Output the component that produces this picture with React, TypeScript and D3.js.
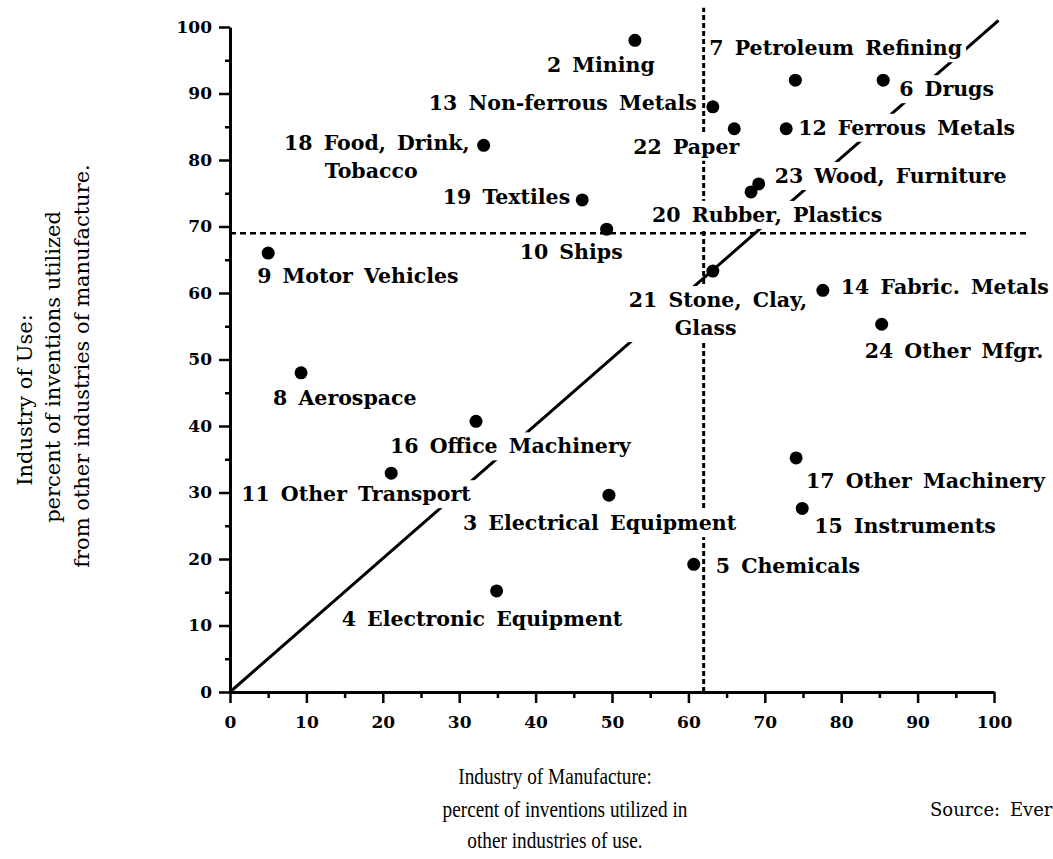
import React, { useEffect, useRef } from 'react';
import * as d3 from 'd3';

// industry codes, names (\n = line break), x = % used elsewhere, y = % from elsewhere
const codes = [2, 7, 6, 13, 22, 12, 23, 20, 19, 10, 21, 14, 24, 17, 15, 5, 3, 4, 11, 16, 8, 9, 18];
const names = [
  'Mining', 'Petroleum Refining', 'Drugs', 'Non-ferrous Metals', 'Paper', 'Ferrous Metals',
  'Wood, Furniture', 'Rubber, Plastics', 'Textiles', 'Ships', 'Stone, Clay,\nGlass',
  'Fabric. Metals', 'Other Mfgr.', 'Other Machinery', 'Instruments', 'Chemicals',
  'Electrical Equipment', 'Electronic Equipment', 'Other Transport', 'Office Machinery',
  'Aerospace', 'Motor Vehicles', 'Food, Drink,\nTobacco',
];
const manufacture = [53, 74, 85.5, 63.2, 66, 72.8, 69.2, 68.2, 46.1, 49.3, 63.2, 77.6, 85.3, 74.1, 74.9, 60.7, 49.6, 34.9, 21.1, 32.2, 9.3, 5, 33.2];
const use = [98, 92, 92, 88, 84.7, 84.7, 76.4, 75.2, 74, 69.6, 63.3, 60.4, 55.3, 35.2, 27.6, 19.2, 29.6, 15.2, 32.9, 40.7, 48, 66, 82.2];

const majorTicks = [0, 10, 20, 30, 40, 50, 60, 70, 80, 90, 100];
const minorTicks = [5, 15, 25, 35, 45, 55, 65, 75, 85, 95];

// reference lines (data units)
const diagonal: [number, number][] = [[0, 0], [100.6, 101]];
const medianX = 62;
const medianY = 69;

// label placement relative to the dot, one entry per line: [anchor, dx, dy]
const labelLayout: [string, number, number][][] = [
  [['start', -88, 25]],
  [['start', -86, -32]],
  [['start', 16, 9]],
  [['end', -16, -4]],
  [['start', -101, 18]],
  [['start', 12, -1]],
  [['start', 16, -8]],
  [['start', -99, 23]],
  [['end', -12, -3]],
  [['start', -87, 23]],
  [['start', -84, 29], ['start', -38, 57]],
  [['start', 18, -3]],
  [['start', -17, 27]],
  [['start', 10, 23]],
  [['start', 12, 18]],
  [['start', 22, 2]],
  [['start', -146, 28]],
  [['start', -155, 28]],
  [['start', -150, 21]],
  [['start', -86, 25]],
  [['start', -28, 25]],
  [['start', -11, 23]],
  [['end', -14, -2], ['end', -66, 26]],
];

const W = 1053;
const H = 859;
const labelFont = '"DejaVu Serif", serif';

const App: React.FC = () => {
  const axisRef = useRef<SVGGElement>(null);
  const bgRef = useRef<SVGGElement>(null);
  const labelsRef = useRef<SVGGElement>(null);

  const x = d3.scaleLinear().domain([0, 100]).range([230, 994]);
  const y = d3.scaleLinear().domain([0, 100]).range([692, 27]);

  useEffect(() => {
    if (!axisRef.current) return;
    const g = d3.select(axisRef.current);
    g.selectAll('*').remove();

    // y axis
    const yMinor = g.append('g').attr('transform', `translate(${x(0)},0)`)
      .call(d3.axisLeft(y).tickValues(minorTicks).tickSize(5).tickSizeOuter(0).tickFormat(() => ''));
    yMinor.select('.domain').remove();
    const yAxis = g.append('g').attr('transform', `translate(${x(0)},0)`)
      .call(d3.axisLeft(y).tickValues(majorTicks).tickSize(11).tickSizeOuter(0).tickPadding(7));

    // x axis
    const xMinor = g.append('g').attr('transform', `translate(0,${y(0)})`)
      .call(d3.axisBottom(x).tickValues(minorTicks).tickSize(6).tickSizeOuter(0).tickFormat(() => ''));
    xMinor.select('.domain').remove();
    const xAxis = g.append('g').attr('transform', `translate(0,${y(0)})`)
      .call(d3.axisBottom(x).tickValues(majorTicks).tickSize(11).tickSizeOuter(0).tickPadding(13));

    [yAxis, xAxis].forEach(a => {
      a.select('.domain').attr('stroke', '#000').attr('stroke-width', 3);
      a.selectAll('text')
        .attr('fill', '#000')
        .style('font-family', labelFont)
        .style('font-weight', 'bold')
        .style('font-size', '17px');
    });
    g.selectAll('.tick line').attr('stroke', '#000').attr('stroke-width', 2.5);

    // white boxes behind labels, breaking the lines like the original
    if (bgRef.current && labelsRef.current) {
      const bg = d3.select(bgRef.current);
      bg.selectAll('*').remove();
      d3.select(labelsRef.current).selectAll<SVGGElement, unknown>('g.lbl').each(function () {
        const b = this.getBBox();
        bg.append('rect')
          .attr('x', b.x - 4).attr('y', b.y - 2)
          .attr('width', b.width + 8).attr('height', b.height + 4)
          .attr('fill', '#fff');
      });
    }
  }, []);

  return (
    <svg width={W} height={H} style={{ position: 'absolute', left: 0, top: 0, background: '#fff' }}>
      {/* reference lines */}
      <line x1={x(diagonal[0][0])} y1={y(diagonal[0][1])} x2={x(diagonal[1][0])} y2={y(diagonal[1][1])}
        stroke="#000" strokeWidth={3} />
      <line x1={x(medianX)} x2={x(medianX)} y1={y(0)} y2={y(102.9)}
        stroke="#000" strokeWidth={3} strokeDasharray="5 3" />
      <line x1={x(0)} x2={x(104.3)} y1={y(medianY)} y2={y(medianY)}
        stroke="#000" strokeWidth={2.5} strokeDasharray="6 4" />

      <g ref={bgRef} />

      <g ref={axisRef} />

      <g ref={labelsRef} style={{ fontFamily: labelFont, fontWeight: 'bold', fontSize: 20.5, wordSpacing: 4 }}>
        {names.map((n, i) => (
          <g className="lbl" key={i}>
            {n.split('\n').map((line, j) => {
              const [anchor, dx, dy] = labelLayout[i][j];
              return (
                <text key={j} x={x(manufacture[i]) + dx} y={y(use[i]) + dy}
                  textAnchor={anchor} dominantBaseline="central" fill="#000">
                  {j === 0 ? `${codes[i]} ${line}` : line}
                </text>
              );
            })}
          </g>
        ))}
      </g>

      {/* dots */}
      {manufacture.map((v, i) => (
        <circle key={i} cx={x(v)} cy={y(use[i])} r={6.5} fill="#000" />
      ))}

      {/* y axis title */}
      <g style={{ fontFamily: labelFont, fontSize: 21 }} fill="#000">
        <text transform="translate(25,400) rotate(-90)" textAnchor="middle" dominantBaseline="central">Industry of Use:</text>
        <text transform="translate(53,367) rotate(-90)" textAnchor="middle" dominantBaseline="central">percent of inventions utilized</text>
        <text transform="translate(82,366) rotate(-90)" textAnchor="middle" dominantBaseline="central">from other industries of manufacture.</text>
      </g>

      {/* x axis title */}
      <g style={{ fontFamily: '"Liberation Serif", serif', fontSize: 23.5 }} fill="#000">
        <text transform="translate(555,776) scale(0.82,1)" textAnchor="middle" dominantBaseline="central">Industry of Manufacture:</text>
        <text transform="translate(565,809) scale(0.82,1)" textAnchor="middle" dominantBaseline="central">percent of inventions utilized in</text>
        <text transform="translate(555,840) scale(0.82,1)" textAnchor="middle" dominantBaseline="central">other industries of use.</text>
      </g>

      <text x={930} y={809} dominantBaseline="central" fill="#000"
        style={{ fontFamily: labelFont, fontSize: 18, wordSpacing: 4 }}>Source: Ever</text>
    </svg>
  );
};

export default App;
